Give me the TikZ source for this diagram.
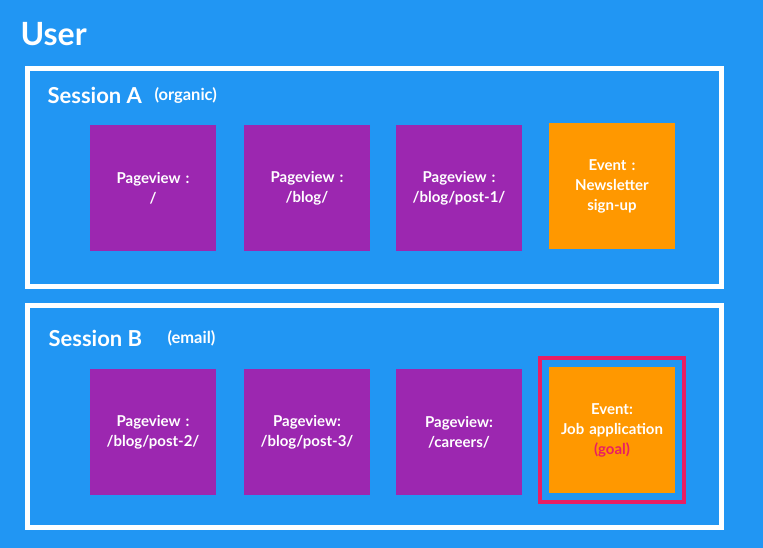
\documentclass[tikz,border=0pt]{standalone}
\usepackage{fontspec}
\setmainfont{Lato}
\definecolor{bg}{HTML}{2196F3}
\definecolor{pur}{HTML}{9C27B0}
\definecolor{org}{HTML}{FF9800}
\definecolor{pk}{HTML}{E91E63}
\begin{document}
\begin{tikzpicture}[x=1pt,y=-1pt,
  box/.style={minimum width=126pt,minimum height=126pt,inner sep=0pt,text width=120pt,align=center,text=white,font=\fontsize{15}{20}\selectfont\bfseries},
  pv/.style={box,fill=pur},
  ev/.style={box,fill=org},
  sess/.style={draw=white,line width=5pt},
  lbl/.style={anchor=west,text=white,font=\fontsize{22}{24}\selectfont\bfseries},
  sm/.style={anchor=west,text=white,font=\fontsize{16.5}{18}\selectfont\bfseries}]
\fill[bg] (0,0) rectangle (763,548);
\useasboundingbox (0,0) rectangle (763,548);
\node[anchor=west,text=white,font=\fontsize{32}{36}\selectfont\bfseries] (user) at (17,34) {User};
\draw[sess] (27.5,68.5) rectangle (721.5,286.5);
\draw[sess] (27.5,305.5) rectangle (721.5,527.5);
\node[lbl] (sa) at (44,95) {Session A};
\node[sm] (sao) at (151,96) {(organic)};
\node[lbl] (sb) at (45,338) {Session B};
\node[sm] (sbo) at (164,338) {(email)};
\node[pv] (a1) at (153,188) {Pageview :\\/};
\node[pv] (a2) at (307,188) {Pageview :\\/blog/};
\node[pv] (a3) at (459,188) {Pageview :\\/blog/post-1/};
\node[ev] (a4) at (612,186) {Event :\\Newsletter\\sign-up};
\node[pv] (b1) at (153,432) {Pageview :\\/blog/post-2/};
\node[pv] (b2) at (307,432) {Pageview:\\/blog/post-3/};
\node[pv] (b3) at (459,432) {Pageview:\\/careers/};
\node[ev] (b4) at (612,430) {Event:\\Job application\\{\color{pk}(goal)}};
\draw[pk,line width=4pt] (540,358) rectangle (684,502);
\end{tikzpicture}
\end{document}
